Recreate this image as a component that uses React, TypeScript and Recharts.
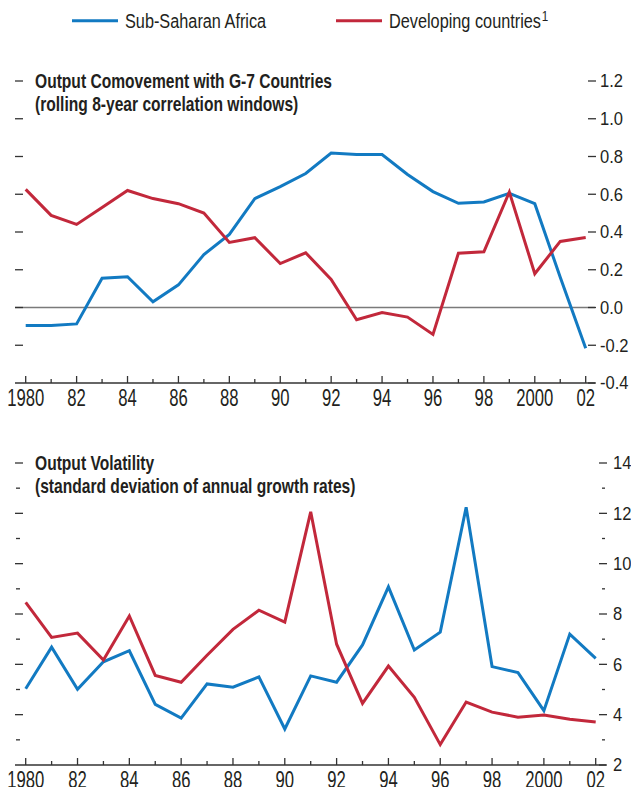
import React from "react";
import { LineChart, Line, XAxis, YAxis, ReferenceLine } from "recharts";

const years = [1980,1981,1982,1983,1984,1985,1986,1987,1988,1989,1990,1991,1992,1993,1994,1995,1996,1997,1998,1999,2000,2001,2002];
const ssaComovement = [-0.095,-0.095,-0.087,0.155,0.163,0.03,0.12,0.28,0.387,0.577,0.64,0.71,0.818,0.81,0.81,0.705,0.614,0.552,0.559,0.605,0.55,0.16,-0.216];
const devComovement = [0.626,0.488,0.44,0.53,0.62,0.577,0.55,0.5,0.345,0.37,0.233,0.29,0.149,-0.065,-0.027,-0.051,-0.143,0.288,0.295,0.612,0.179,0.35,0.371];
const ssaVolatility = [5.03,6.68,5.01,6.1,6.54,4.41,3.86,5.22,5.09,5.5,3.43,5.54,5.29,6.77,9.08,6.57,7.28,12.24,5.91,5.67,4.16,7.2,6.24];
const devVolatility = [8.46,7.07,7.24,6.17,7.92,5.56,5.29,6.36,7.39,8.15,7.68,12.06,6.8,4.45,5.93,4.69,2.81,4.5,4.1,3.9,3.99,3.82,3.71];

const topTicks = [-0.4,-0.2,0,0.2,0.4,0.6,0.8,1.0,1.2];
const topLeftTicks = [-0.2,0,0.2,0.4,0.6,0.8,1.0,1.2];
const bottomTicks = [2,3,4,5,6,7,8,9,10,11,12,13,14];
const bottomLeftTicks = [3,4,5,6,7,8,9,10,11,12,13,14];

const seriesNames = ["Sub-Saharan Africa", "Developing countries"];
const footnoteMark = "1";
const titles = {
  top: ["Output Comovement with G-7 Countries", "(rolling 8-year correlation windows)"],
  bottom: ["Output Volatility", "(standard deviation of annual growth rates)"],
};

const topData = years.map((y, i) => ({ year: y, ssa: ssaComovement[i], dev: devComovement[i] }));
const bottomData = years.map((y, i) => ({ year: y, ssa: ssaVolatility[i], dev: devVolatility[i] }));

const FONT = '"Liberation Sans", Arial, sans-serif';
const BLUE = "#127ac2";
const RED = "#c2283b";
const TXT = "#231f20";
const AXIS = "#333333";

const yearLabel = (v: number) => (v === 1980 ? "1980" : v === 2000 ? "2000" : String(v % 100).padStart(2, "0"));

const XTick = (props: any) => {
  const { x, y, payload } = props;
  const v = payload.value as number;
  const major = v % 2 === 0;
  return (
    <g>
      <line x1={x} x2={x} y1={y} y2={y - (major ? 7 : 4)} stroke={AXIS} strokeWidth={1.3} />
      {major && (
        <text transform={`translate(${x},${y + 23.3}) scale(0.71,1)`} x={0} y={0} textAnchor="middle" fontSize={23.5} fontFamily={FONT} fill={TXT}>
          {yearLabel(v)}
        </text>
      )}
    </g>
  );
};

const makeRightTick = (fmt: (v: number) => string, minorTest: (v: number) => boolean, labelDx: number) => (props: any) => {
  const { x, y, payload } = props;
  const v = payload.value as number;
  const minor = minorTest(v);
  return (
    <g>
      {minor ? (
        <line x1={x - 4} x2={x - 1} y1={y} y2={y} stroke={AXIS} strokeWidth={1.3} />
      ) : (
        <line x1={x - 7} x2={x + 1} y1={y} y2={y} stroke={AXIS} strokeWidth={1.3} />
      )}
      {!minor && (
        <text transform={`translate(${x + labelDx},${y + 6.3}) scale(0.92,1)`} x={0} y={0} textAnchor="start" fontSize={18} fontFamily={FONT} fill={TXT}>
          {fmt(v)}
        </text>
      )}
    </g>
  );
};

const makeLeftTick = (minorTest: (v: number) => boolean) => (props: any) => {
  const { x, y, payload } = props;
  const minor = minorTest(payload.value as number);
  return minor ? (
    <line x1={x + 1} x2={x + 5} y1={y} y2={y} stroke={AXIS} strokeWidth={1.3} />
  ) : (
    <line x1={x} x2={x + 8} y1={y} y2={y} stroke={AXIS} strokeWidth={1.3} />
  );
};

const TopRightTick = makeRightTick((v) => v.toFixed(1), () => false, 5);
const TopLeftTick = makeLeftTick(() => false);
const BottomRightTick = makeRightTick((v) => String(v), (v) => v % 2 !== 0, 7);
const BottomLeftTick = makeLeftTick((v) => v % 2 !== 0);

const Title = ({ x, y, text }: { x: number; y: number; text: string }) => (
  <text transform={`translate(${x},${y}) scale(0.78,1)`} x={0} y={0} fontFamily={FONT} fontWeight="bold" fontSize={20} fill={TXT}>
    {text}
  </text>
);

export default function App() {
  return (
    <div style={{ position: "absolute", left: 0, top: 0, width: 631, height: 787, background: "#fff", overflow: "hidden" }}>
      {/* Top chart */}
      <div style={{ position: "absolute", left: 0, top: 0 }}>
        <LineChart width={631} height={420} data={topData} margin={{ top: 81, left: 14, right: 35, bottom: 36 }}>
          <XAxis
            dataKey="year"
            type="number"
            domain={[1980, 2002]}
            ticks={years}
            interval={0}
            padding={{ left: 10.7, right: 9.3 }}
            height={1}
            tickSize={0}
            tickMargin={0}
            tickLine={false}
            axisLine={{ stroke: AXIS, strokeWidth: 1.5 }}
            tick={<XTick />}
          />
          <YAxis yAxisId="l" orientation="left" width={1} domain={[-0.4, 1.2]} ticks={topLeftTicks} interval={0} axisLine={false} tickLine={false} tickSize={0} tickMargin={0} tick={<TopLeftTick />} />
          <YAxis yAxisId="r" orientation="right" width={1} domain={[-0.4, 1.2]} ticks={topTicks} interval={0} axisLine={false} tickLine={false} tickSize={0} tickMargin={0} tick={<TopRightTick />} />
          <ReferenceLine yAxisId="r" y={0} stroke="#7a7a7a" strokeWidth={1.5} />
          <Line yAxisId="r" dataKey="ssa" stroke={BLUE} strokeWidth={3} dot={false} isAnimationActive={false} strokeLinejoin="miter" />
          <Line yAxisId="l" dataKey="dev" stroke={RED} strokeWidth={3} dot={false} isAnimationActive={false} strokeLinejoin="miter" />
        </LineChart>
      </div>

      {/* Bottom chart */}
      <div style={{ position: "absolute", left: 0, top: 420 }}>
        <LineChart width={631} height={367} data={bottomData} margin={{ top: 43, left: 14, right: 24, bottom: 21 }}>
          <XAxis
            dataKey="year"
            type="number"
            domain={[1980, 2002]}
            ticks={years}
            interval={0}
            padding={{ left: 10.7, right: 10.3 }}
            height={1}
            tickSize={0}
            tickMargin={0}
            tickLine={false}
            axisLine={{ stroke: AXIS, strokeWidth: 1.5 }}
            tick={<XTick />}
          />
          <YAxis yAxisId="l" orientation="left" width={1} domain={[2, 14]} ticks={bottomLeftTicks} interval={0} axisLine={false} tickLine={false} tickSize={0} tickMargin={0} tick={<BottomLeftTick />} />
          <YAxis yAxisId="r" orientation="right" width={1} domain={[2, 14]} ticks={bottomTicks} interval={0} axisLine={false} tickLine={false} tickSize={0} tickMargin={0} tick={<BottomRightTick />} />
          <Line yAxisId="r" dataKey="ssa" stroke={BLUE} strokeWidth={3} dot={false} isAnimationActive={false} strokeLinejoin="miter" />
          <Line yAxisId="l" dataKey="dev" stroke={RED} strokeWidth={3} dot={false} isAnimationActive={false} strokeLinejoin="miter" />
        </LineChart>
      </div>

      {/* Legend and panel titles */}
      <svg width={631} height={787} style={{ position: "absolute", left: 0, top: 0, pointerEvents: "none" }}>
        <line x1={72} x2={118} y1={20.7} y2={20.7} stroke={BLUE} strokeWidth={3} />
        <text transform="translate(125,27.5) scale(0.835,1)" x={0} y={0} fontFamily={FONT} fontSize={19.5} fill={TXT}>
          {seriesNames[0]}
        </text>
        <line x1={336} x2={382} y1={20.7} y2={20.7} stroke={RED} strokeWidth={3} />
        <text transform="translate(389,27.5) scale(0.835,1)" x={0} y={0} fontFamily={FONT} fontSize={19.5} fill={TXT}>
          {seriesNames[1]}
          <tspan fontSize={14} dx={1} dy={-7}>{footnoteMark}</tspan>
        </text>
        <Title x={35} y={88.3} text={titles.top[0]} />
        <Title x={35} y={110.7} text={titles.top[1]} />
        <Title x={35} y={470} text={titles.bottom[0]} />
        <Title x={35} y={492.5} text={titles.bottom[1]} />
      </svg>
    </div>
  );
}
